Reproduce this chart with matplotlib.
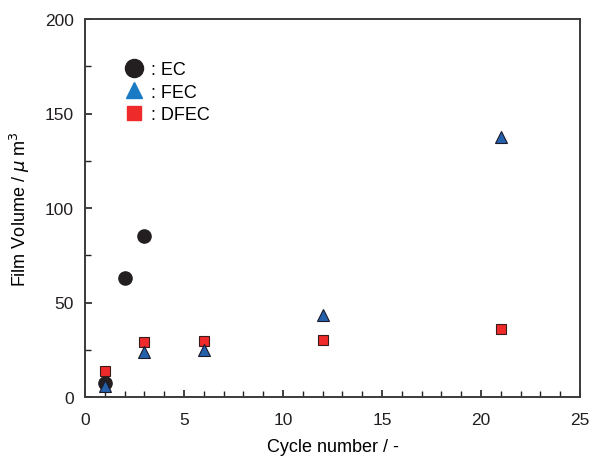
import matplotlib
matplotlib.use("Agg")
import matplotlib.pyplot as plt
from matplotlib.ticker import MultipleLocator
from matplotlib.lines import Line2D

plt.rcParams['font.family'] = ['Liberation Sans', 'DejaVu Sans']

ec_x = [1, 2, 3]
ec_y = [7.5, 63, 85]
fec_x = [1, 3, 6, 12, 21]
fec_y = [6, 24, 25, 43.5, 137.5]
dfec_x = [1, 3, 6, 12, 21]
dfec_y = [14, 29, 29.5, 30, 36]

fig = plt.figure(figsize=(5.94, 4.64), dpi=100)
ax = fig.add_axes([85/594, 1-398/464, 495/594, 378/464])

ax.plot(ec_x, ec_y, 'o', ms=9.5, mfc='#231f20', mec='#231f20', zorder=3)
ax.plot(dfec_x, dfec_y, 's', ms=7.5, mfc='#ee2a2a', mec='#3a1a1a', mew=0.8, zorder=4)
ax.plot(fec_x, fec_y, '^', ms=8.5, mfc='#2560ab', mec='#1a1a2a', mew=0.8, zorder=5)

ax.set_xlim(0, 25)
ax.set_ylim(0, 200)
ax.xaxis.set_major_locator(MultipleLocator(5))
ax.xaxis.set_minor_locator(MultipleLocator(1))
ax.yaxis.set_major_locator(MultipleLocator(50))
ax.yaxis.set_minor_locator(MultipleLocator(25))
ax.tick_params(which='both', direction='in', labelsize=12.5, colors='#231f20')
ax.tick_params(which='major', length=5, width=1.2, pad=8)
ax.tick_params(which='minor', length=4, width=1)
ax.tick_params(axis='x', which='both', top=False, pad=11)
ax.tick_params(axis='y', which='both', right=False)
for s in ax.spines.values():
    s.set_linewidth(1.4)
    s.set_color('#3a3a3a')

ax.set_xlabel('Cycle number / -', fontsize=13, labelpad=8)
ax.set_ylabel('Film Volume / $\\mu$ m$^3$', fontsize=13, labelpad=9)

handles = [
    Line2D([], [], ls='none', marker='o', ms=13, mfc='#231f20', mec='#231f20'),
    Line2D([], [], ls='none', marker='^', ms=12, mfc='#1a7bc4', mec='#1a7bc4'),
    Line2D([], [], ls='none', marker='s', ms=10.5, mfc='#ee2a2a', mec='#ee2a2a'),
]
labels = [': EC', ': FEC', ': DFEC']
ax.legend(handles, labels, loc='upper left', bbox_to_anchor=(0.062, 0.907), frameon=False,
          fontsize=13, handletextpad=0.35, labelspacing=0.3, handlelength=1.2,
          borderaxespad=0.0)

fig.savefig('out.png', dpi=100)
